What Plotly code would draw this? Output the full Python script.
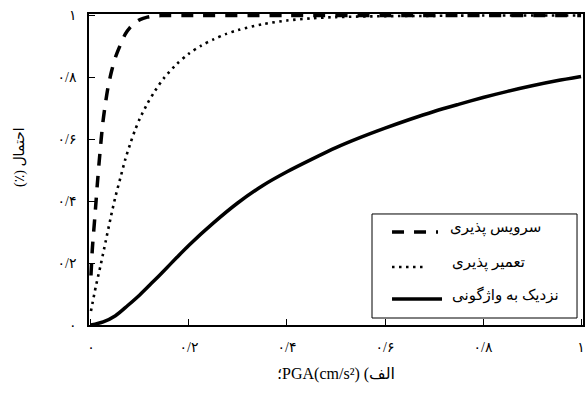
import plotly.graph_objects as go

# ---- data ----
serv_x = [0, 0.003, 0.008, 0.013, 0.018, 0.024, 0.029, 0.035, 0.042, 0.05, 0.06, 0.07, 0.08, 0.09, 0.1, 0.115, 0.13,
          0.15, 0.2, 0.4, 0.6, 0.8, 1.0]
serv_y = [0.16, 0.25, 0.35, 0.455, 0.55, 0.65, 0.71, 0.77, 0.82, 0.865, 0.905, 0.94, 0.962, 0.977, 0.987, 0.995, 0.999,
          1.0, 1.0, 1.0, 1.0, 1.0, 1.0]

rep_x = [0, 0.01, 0.02, 0.03, 0.04, 0.05, 0.06, 0.07, 0.08, 0.09, 0.1, 0.115, 0.13, 0.15, 0.175, 0.2, 0.225, 0.25,
         0.275, 0.3, 0.35, 0.4, 0.45, 0.5, 0.6, 0.7, 0.8, 1.0]
rep_y = [0.045, 0.125, 0.195, 0.27, 0.345, 0.415, 0.475, 0.535, 0.585, 0.63, 0.668, 0.715, 0.755, 0.8, 0.843, 0.877,
         0.903, 0.923, 0.94, 0.953, 0.972, 0.984, 0.991, 0.995, 0.998, 0.999, 1.0, 1.0]

col_x = [0, 0.025, 0.05, 0.075, 0.1, 0.125, 0.15, 0.175, 0.2, 0.25, 0.3, 0.35, 0.4, 0.45, 0.5, 0.55, 0.6, 0.65, 0.7,
         0.75, 0.8, 0.85, 0.9, 0.95, 1.0]
col_y = [0, 0.01, 0.03, 0.063, 0.098, 0.137, 0.177, 0.218, 0.258, 0.33, 0.395, 0.45, 0.495, 0.535, 0.573, 0.606, 0.636,
         0.664, 0.69, 0.713, 0.735, 0.755, 0.773, 0.789, 0.803]

series_names = ["سرویس پذیری", "تعمیر پذیری", "نزدیک به واژگونی"]
tick_vals = [0, 0.2, 0.4, 0.6, 0.8, 1.0]
tick_text = ["۰", "۰/۲", "۰/۴", "۰/۶", "۰/۸", "۱"]
x_title = "؛PGA(cm/s²) (الف"
y_title = "(٪) احتمال"

FONT = "Liberation Serif, DejaVu Sans, serif"
dashes = ["12px,10px", "2.5px,4.5px", "solid"]
widths = [3.5, 2.6, 3.5]

fig = go.Figure()
for xs, ys, name, d, w in zip([serv_x, rep_x, col_x], [serv_y, rep_y, col_y], series_names, dashes, widths):
    fig.add_trace(go.Scatter(x=xs, y=ys, mode="lines", name=name, showlegend=False,
                             line=dict(color="black", width=w, dash=d, shape="spline", smoothing=0.8)))

axis_common = dict(showline=True, linecolor="black", linewidth=1.5, mirror=True, ticks="inside",
                   ticklen=6, tickcolor="black", tickwidth=1.2, showgrid=False, zeroline=False,
                   automargin=False,
                   tickvals=tick_vals, ticktext=tick_text, tickfont=dict(family=FONT, size=14, color="black"))

fig.update_layout(
    width=588, height=396,
    margin=dict(l=89, r=5, t=14, b=71),
    plot_bgcolor="white", paper_bgcolor="white",
    font=dict(family=FONT, color="black"),
    xaxis=dict(range=[-0.004, 1.004], ticklabelstandoff=8,
               title=dict(text=x_title, font=dict(family=FONT, size=16), standoff=14), **axis_common),
    yaxis=dict(range=[0, 1.005], ticklabelstandoff=8, **axis_common),
)

# y-axis title
fig.add_annotation(text=y_title, xref="paper", yref="paper", x=-0.14, y=0.54, textangle=-90,
                   showarrow=False, font=dict(family=FONT, size=14), xanchor="center", yanchor="middle")

# manual legend (sample on the left, text on the right)
fig.add_shape(type="rect", xref="paper", yref="paper", x0=0.5729, x1=0.9879, y0=0.0225, y1=0.357,
              line=dict(color="black", width=1), fillcolor="white", layer="above")
rows_y = [0.299, 0.1865, 0.0836]
sample_end = [0.7065, 0.6842, 0.7146]
text_center = [0.822, 0.809, 0.843]
for name, d, w, yy, xe, xc in zip(series_names, dashes, widths, rows_y, sample_end, text_center):
    fig.add_shape(type="line", xref="paper", yref="paper", x0=0.6134, x1=xe, y0=yy, y1=yy,
                  line=dict(color="black", width=w, dash=d), layer="above")
    fig.add_annotation(text=name, xref="paper", yref="paper", x=xc, y=yy + 0.014, xanchor="center",
                       yanchor="middle", showarrow=False, font=dict(family=FONT, size=15))

fig.write_html("out.html", config={"displayModeBar": False},
               post_script="document.body.style.margin='0px';document.body.style.overflow='hidden';")
